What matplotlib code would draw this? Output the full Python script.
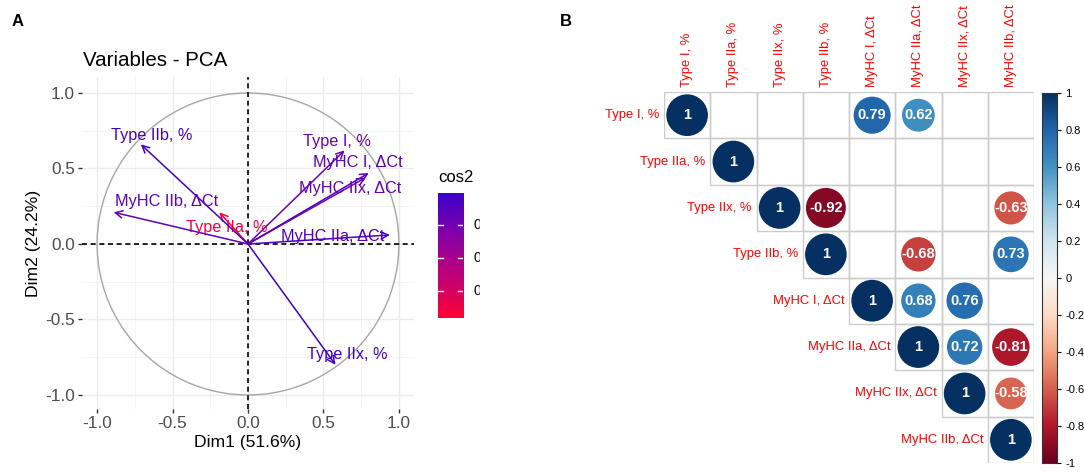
import numpy as np
import matplotlib
matplotlib.use('Agg')
import matplotlib.pyplot as plt
from matplotlib.colors import LinearSegmentedColormap, Normalize
from matplotlib.patches import Circle, Rectangle

plt.rcParams['font.family'] = ['Liberation Sans', 'DejaVu Sans']

# --- data ---
var_names = ['Type I, %', 'Type IIa, %', 'Type IIx, %', 'Type IIb, %',
             'MyHC I, ΔCt', 'MyHC IIa, ΔCt', 'MyHC IIx, ΔCt', 'MyHC IIb, ΔCt']
# PCA variable coordinates
dim1 = [0.64, -0.19, 0.58, -0.71, 0.80, 0.94, 0.78, -0.89]
dim2 = [0.62, 0.21, -0.80, 0.66, 0.47, 0.06, 0.44, 0.21]
# where the (repelled) labels sit relative to the arrow tip
lab_dx = [-0.05, 0.05, 0.08, 0.07, -0.07, -0.38, -0.10, 0.35]
lab_dy = [0.06, -0.10, 0.07, 0.06, 0.07, -0.01, -0.07, 0.07]

pca_title = 'Variables - PCA'
xlab = 'Dim1 (51.6%)'
ylab = 'Dim2 (24.2%)'
cos2_ticks = [0.25, 0.50, 0.75]

# correlation matrix, upper triangle only (None = not significant / not shown)
corr = [
    [1, None, None, None, 0.79, 0.62, None, None],
    [None, 1, None, None, None, None, None, None],
    [None, None, 1, -0.92, None, None, None, -0.63],
    [None, None, None, 1, None, -0.68, None, 0.73],
    [None, None, None, None, 1, 0.68, 0.76, None],
    [None, None, None, None, None, 1, 0.72, -0.81],
    [None, None, None, None, None, None, 1, -0.58],
    [None, None, None, None, None, None, None, 1],
]
cbar_ticks = [1, 0.8, 0.6, 0.4, 0.2, 0, -0.2, -0.4, -0.6, -0.8, -1]

W, H = 1084, 472
fig = plt.figure(figsize=(W / 100, H / 100), dpi=100)

def box(x0, y0, x1, y1):
    # pixel box -> figure fraction [left, bottom, width, height]
    return [x0 / W, 1 - y1 / H, (x1 - x0) / W, (y1 - y0) / H]

# ================= panel A =================
ax = fig.add_axes(box(82, 77, 414, 409))
ax.set_xlim(-1.1, 1.1)
ax.set_ylim(-1.093, 1.106)
for s in ax.spines.values():
    s.set_visible(False)
ax.set_xticks([-1, -0.5, 0, 0.5, 1])
ax.set_yticks([-1, -0.5, 0, 0.5, 1])
ax.set_xticklabels(['-1.0', '-0.5', '0.0', '0.5', '1.0'])
ax.set_yticklabels(['-1.0', '-0.5', '0.0', '0.5', '1.0'])
ax.set_xticks([-0.75, -0.25, 0.25, 0.75], minor=True)
ax.set_yticks([-0.75, -0.25, 0.25, 0.75], minor=True)
ax.grid(True, which='major', color='#EBEBEB', lw=1.0)
ax.grid(True, which='minor', color='#F2F2F2', lw=0.6)
ax.tick_params(which='major', length=3, width=1, color='#333333',
               labelcolor='#4D4D4D', labelsize=12.4, pad=2)
ax.tick_params(which='minor', length=0)
ax.set_axisbelow(True)
ax.set_xlabel(xlab, fontsize=12.6, labelpad=3)
ax.set_ylabel(ylab, fontsize=12.6, labelpad=3)

t = np.linspace(0, 2 * np.pi, 400)
ax.plot(np.cos(t), np.sin(t), color='#A6A6A6', lw=1.0)
ax.axhline(0, color='black', lw=1.2, dashes=(3, 2.2))
ax.axvline(0, color='black', lw=1.2, dashes=(3, 2.2))

cos2 = np.array(dim1) ** 2 + np.array(dim2) ** 2
cmap_cos = LinearSegmentedColormap.from_list(
    'cos2', ['#FF0033', '#C0007A', '#8400A6', '#3A00CC'])
norm_cos = Normalize(vmin=0.05, vmax=0.99)

for i, name in enumerate(var_names):
    c = cmap_cos(norm_cos(cos2[i]))
    ax.annotate('', xy=(dim1[i], dim2[i]), xytext=(0, 0),
                arrowprops=dict(arrowstyle='->', color=c, lw=1.1,
                                mutation_scale=13, shrinkA=0, shrinkB=0))
    ax.text(dim1[i] + lab_dx[i], dim2[i] + lab_dy[i], name, color=c,
            fontsize=11.7, ha='center', va='center')

fig.text(83 / W, 1 - 60 / H, pca_title, fontsize=14.8, ha='left', va='center')
fig.text(18 / W, 1 - 21 / H, 'A', fontsize=12, fontweight='bold',
         ha='center', va='center')

# cos2 legend
fig.text(456 / W, 1 - 178 / H, 'cos2', fontsize=12, ha='center', va='center')
lax = fig.add_axes(box(438, 193, 463, 318))
grad = np.linspace(0.05, 0.99, 256).reshape(-1, 1)
lax.imshow(grad, cmap=cmap_cos, norm=norm_cos, aspect='auto', origin='lower',
           extent=[0, 1, 0.05, 0.99])
lax.set_xlim(0, 1)
lax.set_ylim(0.05, 0.99)
lax.axis('off')
for v in cos2_ticks:
    lax.plot([0, 0.2], [v, v], color='white', lw=1)
    lax.plot([0.8, 1], [v, v], color='white', lw=1)
    lax.text(1.4, v, '%.2f' % v, fontsize=10, ha='left', va='center',
             transform=lax.transData, clip_on=False)
# the legend labels are cut off at the panel edge in the original
fig.add_artist(Rectangle((480 / W, 150 / H), 75 / W, 200 / H,
                         transform=fig.transFigure, color='white', zorder=10))

# ================= panel B =================
n = len(var_names)
bx = fig.add_axes(box(664, 92, 1034, 463))
bx.set_xlim(0, n)
bx.set_ylim(n, 0)
bx.axis('off')
cmap_r = plt.get_cmap('RdBu')
norm_r = Normalize(-1, 1)
for i in range(n):
    for j in range(i, n):
        bx.add_patch(Rectangle((j, i), 1, 1, fill=False, ec='#CCCCCC', lw=1))
        r = corr[i][j]
        if r is None:
            continue
        rad = 0.45 * np.sqrt(abs(r))
        bx.add_patch(Circle((j + 0.5, i + 0.5), rad, fc=cmap_r(norm_r(r)),
                            ec='none'))
        txt = '1' if r == 1 else '%.2f' % r
        bx.text(j + 0.5, i + 0.5, txt, color='white', fontsize=10.5,
                fontweight='bold', ha='center', va='center')
for k, name in enumerate(var_names):
    bx.text(k - 0.1, k + 0.5, name, color='red', fontsize=9.4,
            ha='right', va='center', clip_on=False)
    bx.text(k + 0.5, -0.1, name, color='red', fontsize=9.4, rotation=90,
            ha='center', va='bottom', clip_on=False)

fig.text(566 / W, 1 - 21 / H, 'B', fontsize=12, fontweight='bold',
         ha='center', va='center')

cax = fig.add_axes(box(1042, 93, 1057, 463))
g2 = np.linspace(-1, 1, 256).reshape(-1, 1)
cax.imshow(g2, cmap=cmap_r, norm=norm_r, aspect='auto', origin='lower',
           extent=[0, 1, -1, 1])
cax.set_xlim(0, 1)
cax.set_ylim(-1, 1)
cax.set_xticks([])
cax.yaxis.tick_right()
cax.set_yticks(cbar_ticks)
cax.set_yticklabels([('%g' % v) for v in cbar_ticks])
cax.tick_params(axis='y', length=3, width=0.8, labelsize=8, pad=3)
for s in cax.spines.values():
    s.set_color('#333333')
    s.set_linewidth(0.8)

fig.savefig('out.png', dpi=100)
